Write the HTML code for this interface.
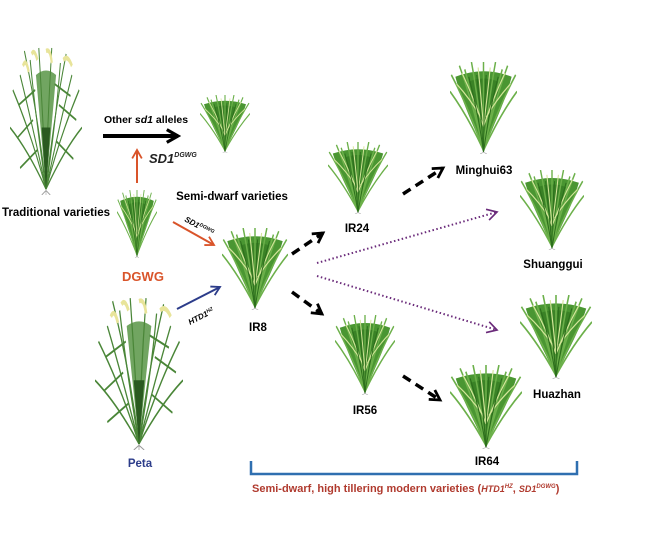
<!DOCTYPE html>
<html><head><meta charset="utf-8"><style>
html,body{margin:0;padding:0;background:#fff;width:650px;height:539px;overflow:hidden}
svg{display:block}
text{font-family:"Liberation Sans",sans-serif;font-weight:bold}
</style></head><body>
<svg width="650" height="539" viewBox="0 0 650 539" xmlns="http://www.w3.org/2000/svg">
<defs>
<symbol id="p" viewBox="0 0 100 100" preserveAspectRatio="none">
<path d="M50 98 C38 72 18 45 8 16 Q50 4 92 16 C82 45 62 72 50 98Z" fill="#4a9632"/>
<path d="M50 98 C42 72 30 45 26 22 Q50 14 74 22 C70 45 58 72 50 98Z" fill="#3a8226"/>
<g fill="none" stroke="#6cb04a" stroke-width="2.2">
<path d="M50 96 Q28 50 2 14"/><path d="M50 96 Q34 44 14 4"/><path d="M50 96 Q42 40 32 0"/>
<path d="M50 96 Q50 40 50 0"/><path d="M50 96 Q58 40 68 0"/><path d="M50 96 Q66 44 86 4"/>
<path d="M50 96 Q72 50 98 14"/><path d="M50 96 Q26 58 0 32"/><path d="M50 96 Q74 58 100 32"/>
<path d="M50 96 Q38 50 22 8"/><path d="M50 96 Q62 50 78 8"/>
</g>
<g fill="none" stroke="#d4e69a" stroke-width="1.6">
<path d="M50 70 Q36 40 18 12"/><path d="M50 70 Q46 36 42 6"/><path d="M50 70 Q56 36 60 6"/><path d="M50 70 Q64 40 82 12"/>
<path d="M46 60 Q30 40 10 24"/><path d="M54 60 Q70 40 90 24"/>
</g>
<g fill="none" stroke="#2c6e1c" stroke-width="1.5">
<path d="M50 98 Q42 55 28 16"/><path d="M50 98 Q58 55 72 16"/><path d="M50 98 Q50 55 54 14"/><path d="M50 98 Q46 55 40 14"/>
</g>
<g stroke="#aaa" stroke-width="0.8"><path d="M50 98 L45 100 M50 98 L55 100"/></g>
</symbol>
<symbol id="t" viewBox="0 0 100 100" preserveAspectRatio="none">
<path d="M50 96 L36 20 Q50 14 64 20 Z" fill="#4e8e3a" opacity="0.8"/>
<g fill="none" stroke="#4a8638" stroke-width="1.4">
<path d="M50 96 Q40 50 20 4"/><path d="M50 96 Q46 50 40 2"/><path d="M50 96 Q52 50 58 2"/><path d="M50 96 Q60 50 78 6"/>
<path d="M50 96 Q30 60 4 30"/><path d="M50 96 Q70 60 96 30"/><path d="M50 96 Q25 70 0 55"/><path d="M50 96 Q75 70 100 55"/>
<path d="M50 96 Q36 50 28 10"/><path d="M50 96 Q64 50 70 12"/><path d="M50 96 Q32 55 14 20"/><path d="M50 96 Q68 55 86 20"/>
<path d="M32 50 L10 62"/><path d="M68 40 L92 50"/><path d="M35 30 L12 40"/><path d="M64 64 L88 76"/><path d="M38 70 L14 82"/><path d="M62 26 L84 34"/>
</g>
<path d="M50 97 L44 55 L56 55 Z" fill="#2a5a20"/>
<g fill="none" stroke="#e8e49a" stroke-width="3">
<path d="M30 6 Q34 2 38 10"/><path d="M50 4 Q56 2 58 12"/><path d="M74 10 Q80 6 86 14"/><path d="M18 14 Q22 8 26 18"/>
</g>
<g stroke="#999" stroke-width="0.8"><path d="M50 97 L44 100 M50 97 L56 100 M50 97 L50 100"/></g>
</symbol>
<marker id="ab" viewBox="0 0 10 10" refX="8" refY="5" markerWidth="4" markerHeight="4" orient="auto"><path d="M1 1 L8 5 L1 9" fill="none" stroke="#000" stroke-width="2"/></marker>
<marker id="ao" viewBox="0 0 10 10" refX="8" refY="5" markerWidth="6" markerHeight="6" orient="auto"><path d="M1 1 L8 5 L1 9" fill="none" stroke="#d9542a" stroke-width="1.5"/></marker>
<marker id="an" viewBox="0 0 10 10" refX="8" refY="5" markerWidth="6" markerHeight="6" orient="auto"><path d="M1 1 L8 5 L1 9" fill="none" stroke="#2c3c8a" stroke-width="1.5"/></marker>
<marker id="ap" viewBox="0 0 10 10" refX="8" refY="5" markerWidth="7" markerHeight="7" orient="auto"><path d="M1 1 L8 5 L1 9" fill="none" stroke="#6a2a7a" stroke-width="1.2"/></marker>
</defs>

<use href="#t" x="10" y="45" width="72" height="150"/>
<use href="#t" x="95" y="295" width="88" height="155"/>
<use href="#p" x="200" y="95" width="50" height="58"/>
<use href="#p" x="117" y="190" width="40" height="68"/>
<use href="#p" x="222" y="228" width="66" height="82"/>
<use href="#p" x="328" y="142" width="60" height="72"/>
<use href="#p" x="450" y="62" width="67" height="92"/>
<use href="#p" x="520" y="170" width="64" height="80"/>
<use href="#p" x="335" y="315" width="60" height="80"/>
<use href="#p" x="520" y="295" width="72" height="84"/>
<use href="#p" x="450" y="365" width="72" height="84"/>

<line x1="103" y1="136" x2="178" y2="136" stroke="#000" stroke-width="4" marker-end="url(#ab)"/>
<line x1="137" y1="183" x2="137" y2="150" stroke="#d9542a" stroke-width="2" marker-end="url(#ao)"/>
<line x1="173" y1="222" x2="214" y2="245" stroke="#d9542a" stroke-width="2" marker-end="url(#ao)"/>
<line x1="177" y1="309" x2="220" y2="287" stroke="#2c3c8a" stroke-width="2" marker-end="url(#an)"/>
<g stroke="#000" stroke-width="3.5" stroke-dasharray="9,6" fill="none">
<line x1="292" y1="254" x2="323" y2="233" marker-end="url(#ab)"/>
<line x1="292" y1="292" x2="322" y2="314" marker-end="url(#ab)"/>
<line x1="403" y1="194" x2="443" y2="168" marker-end="url(#ab)"/>
<line x1="403" y1="376" x2="440" y2="400" marker-end="url(#ab)"/>
</g>
<g stroke="#6a2a7a" stroke-width="2" stroke-dasharray="1.5,2.5" fill="none">
<line x1="317" y1="263" x2="497" y2="212" marker-end="url(#ap)"/>
<line x1="317" y1="276" x2="497" y2="330" marker-end="url(#ap)"/>
</g>

<path d="M251 461 V474 H577 V461" fill="none" stroke="#2f6fb0" stroke-width="2.5"/>

<text x="104" y="123" font-size="10.5">Other <tspan font-style="italic">sd1</tspan> alleles</text>
<text x="149" y="163" font-size="13" font-weight="normal" font-style="italic" fill="#222">SD1<tspan font-size="7" dy="-6">DGWG</tspan></text>
<text x="56" y="216" font-size="11.5" text-anchor="middle">Traditional varieties</text>
<text x="232" y="200" font-size="11.5" text-anchor="middle">Semi-dwarf varieties</text>
<text x="143" y="281" font-size="13" text-anchor="middle" fill="#d9542a">DGWG</text>
<text x="184" y="221" font-size="8" font-style="italic" transform="rotate(28 184 221)">SD1<tspan font-size="5" dy="-3">DGWG</tspan></text>
<text x="190" y="325" font-size="8" font-style="italic" transform="rotate(-27 190 325)">HTD1<tspan font-size="5" dy="-3">HZ</tspan></text>
<text x="258" y="331" font-size="11.5" text-anchor="middle">IR8</text>
<text x="357" y="232" font-size="11.5" text-anchor="middle">IR24</text>
<text x="484" y="174" font-size="11.5" text-anchor="middle">Minghui63</text>
<text x="553" y="268" font-size="11.5" text-anchor="middle">Shuanggui</text>
<text x="365" y="414" font-size="11.5" text-anchor="middle">IR56</text>
<text x="557" y="398" font-size="11.5" text-anchor="middle">Huazhan</text>
<text x="487" y="465" font-size="11.5" text-anchor="middle">IR64</text>
<text x="140" y="467" font-size="11.5" text-anchor="middle" fill="#2c3c8a">Peta</text>
<text x="252" y="492" font-size="11" fill="#b03a2e">Semi-dwarf, high tillering modern varieties (<tspan font-style="italic" font-size="9">HTD1</tspan><tspan font-style="italic" font-size="6" dy="-4">HZ</tspan><tspan dy="4">, </tspan><tspan font-style="italic" font-size="9">SD1</tspan><tspan font-style="italic" font-size="6" dy="-4">DGWG</tspan><tspan dy="4">)</tspan></text>
</svg>
</body></html>
